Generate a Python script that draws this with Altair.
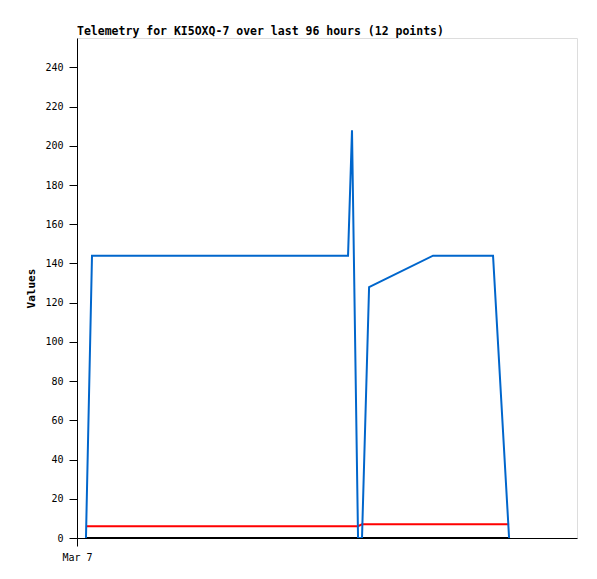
import altair as alt
import pandas as pd

# hours after Mar 7 00:00
hours = [0.43, 0.72, 13.01, 13.2, 13.49, 13.68, 14.02, 17.09, 19.97, 20.74]
blue_vals = [0, 144, 144, 208, 0, 0, 128, 144, 144, 0]
red_vals = [6, 6, 6, 6, 6, 7, 7, 7, 7, 7]
black_vals = [0, 0, 0, 0, 0, 0, 0, 0, 0, 0]

series_names = ["zero", "voltage", "values"]
series_colors = ["#000000", "#ff0000", "#0066cc"]

rows = []
for name, vals in zip(series_names, [black_vals, red_vals, blue_vals]):
    for h, v in zip(hours, vals):
        rows.append({"hour": h, "value": v, "series": name})
df = pd.DataFrame(rows)

FONT = "DejaVu Sans Mono"

base = alt.Chart(df)
layers = []
for name, col in zip(series_names, series_colors):
    layers.append(
        base.transform_filter(alt.datum.series == name)
        .mark_line(color=col, strokeWidth=2, clip=True)
        .encode(
            x=alt.X("hour:Q", scale=alt.Scale(domain=[0, 24], nice=False),
                    axis=alt.Axis(values=[0], labelExpr="'Mar 7'", title=None,
                                  grid=False, tickSize=8, domainColor="#000",
                                  tickColor="#000", labelFont=FONT, labelFontSize=10,
                                  labelColor="#000", labelPadding=6,
                                  labelFlush=False, labelAlign="center")),
            y=alt.Y("value:Q", scale=alt.Scale(domain=[0, 255], nice=False, zero=True),
                    axis=alt.Axis(values=list(range(0, 241, 20)), title="Values",
                                  grid=False, tickSize=8, domainColor="#000",
                                  tickColor="#000", labelFont=FONT, labelFontSize=10,
                                  labelColor="#000", labelPadding=6,
                                  titleFont=FONT, titleFontSize=11, titleFontWeight="bold",
                                  titleColor="#000", titlePadding=8)),
            order="hour:Q",
        )
    )

chart = alt.layer(*layers).properties(
    width=500,
    height=500,
    title=alt.TitleParams(
        "Telemetry for KI5OXQ-7 over last 96 hours (12 points)",
        anchor="start", frame="group", font=FONT, fontSize=11.5, fontWeight="bold",
        color="#000", offset=1,
    ),
    autosize=alt.AutoSizeParams(type="none"),
    padding={"left": 69, "top": 30, "right": 12, "bottom": 33},
).configure_view(stroke="#666666", strokeWidth=1).configure(background="white")

chart.save("out.html", embed_options={"renderer": "svg", "actions": False})
